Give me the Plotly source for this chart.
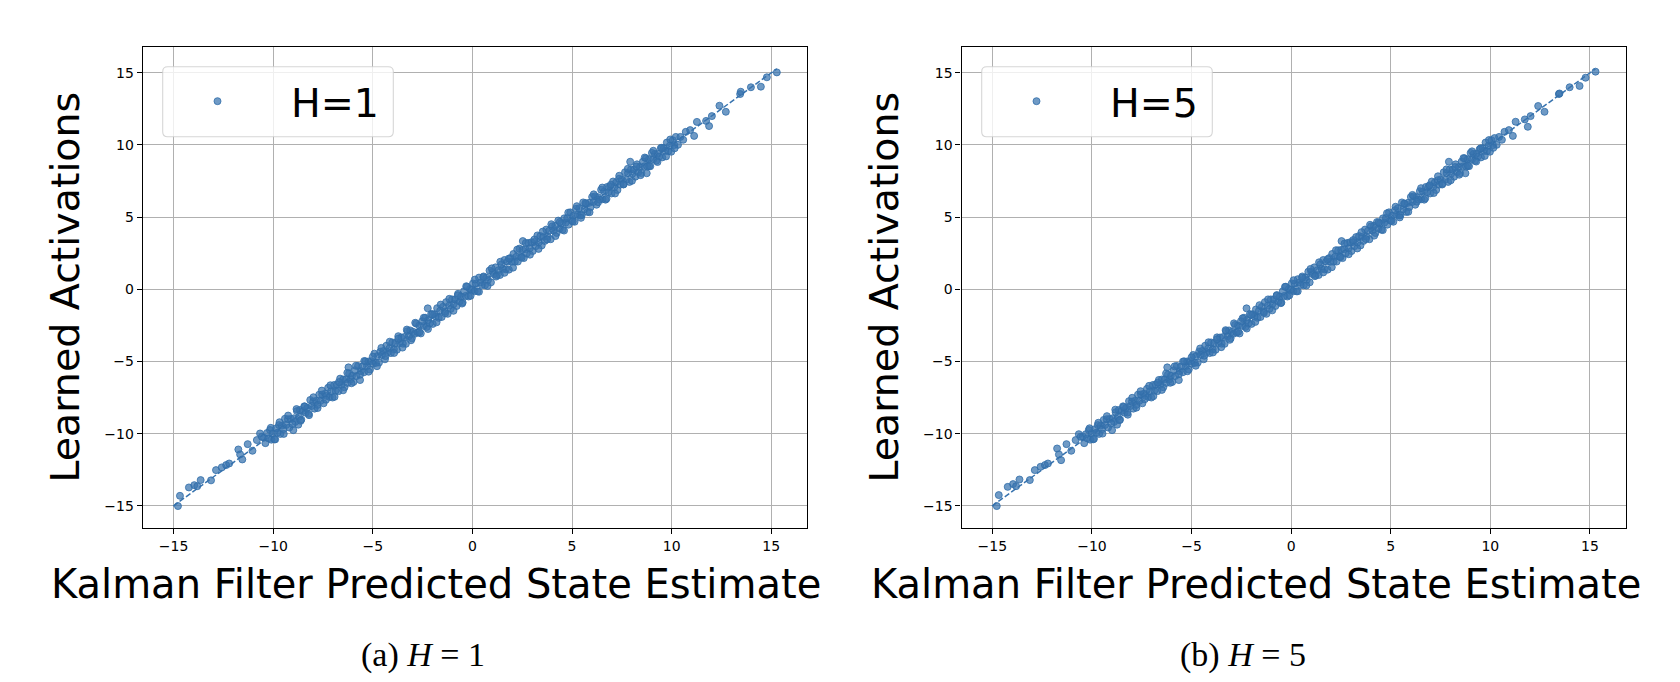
import plotly.graph_objects as go

# ---------------- data ----------------
kalman_x = [
    -14.78, -14.68, -14.23, -13.96, -13.81, -13.64, -13.12, -12.87, -12.58, -12.36,
    -12.21, -11.75, -11.66, -11.55, -11.28, -11.04, -10.82, -10.66, -10.57,
    -10.46, -10.39, -10.31, -10.24, -10.16, -10.09, -10.01, -9.94, -9.86, -9.79, -9.71, -9.64, -9.56,
    -9.49, -9.41, -9.34, -9.26, -9.19, -9.11, -8.99, -8.96, -8.89, -8.81, -8.74, -8.70, -8.66, -8.59, -8.51,
    -8.44, -8.37, -8.29, -8.22, -8.14, -8.07, -7.99, -7.92, -7.84, -7.77, -7.69, -7.62, -7.54,
    -7.47, -7.39, -7.32, -7.24, -7.17, -7.09, -7.02, -6.94, -6.87, -6.79, -6.72, -6.64, -6.57,
    -6.49, -6.42, -6.34, -6.27, -6.22, -6.19, -6.12, -6.04, -5.97, -5.89, -5.82, -5.74, -5.64, -5.59, -5.52,
    -5.44, -5.37, -5.29, -5.22, -5.14, -5.07, -4.99, -4.92, -4.84, -4.77, -4.69, -4.62, -4.54,
    -4.47, -4.39, -4.32, -4.24, -4.17, -4.09, -4.02, -3.94, -3.87, -3.79, -3.72, -3.64, -3.57,
    -3.49, -3.42, -3.34, -3.27, -3.19, -3.12, -3.04, -2.97, -2.89, -2.82, -2.74, -2.67, -2.59, -2.52,
    -2.44, -2.37, -2.29, -2.24, -2.22, -2.14, -2.07, -1.99, -1.92, -1.84, -1.77, -1.69, -1.62, -1.54,
    -1.47, -1.39, -1.32, -1.24, -1.17, -1.09, -1.02, -0.94, -0.87, -0.79, -0.72, -0.64, -0.57,
    -0.49, -0.42, -0.34, -0.27, -0.19, -0.12, -0.04, 0.03, 0.11, 0.18, 0.26, 0.33, 0.41, 0.48,
    0.56, 0.63, 0.71, 0.78, 0.86, 0.93, 1.01, 1.08, 1.16, 1.23, 1.31, 1.38, 1.46,
    1.53, 1.61, 1.68, 1.76, 1.83, 1.91, 1.98, 2.06, 2.13, 2.21, 2.28, 2.36, 2.43,
    2.51, 2.53, 2.58, 2.66, 2.73, 2.81, 2.88, 2.96, 3.03, 3.11, 3.18, 3.26, 3.33, 3.41, 3.48,
    3.56, 3.63, 3.71, 3.78, 3.86, 3.93, 4.01, 4.08, 4.16, 4.23, 4.31, 4.38, 4.46,
    4.53, 4.61, 4.68, 4.76, 4.83, 4.91, 4.98, 5.06, 5.13, 5.21, 5.28, 5.36, 5.43, 5.49,
    5.56, 5.63, 5.71, 5.78, 5.86, 5.93, 6.01, 6.08, 6.16, 6.23, 6.31, 6.38, 6.46,
    6.53, 6.61, 6.68, 6.76, 6.83, 6.91, 6.98, 7.06, 7.13, 7.21, 7.28, 7.36, 7.43,
    7.51, 7.58, 7.66, 7.73, 7.81, 7.88, 7.92, 7.96, 8.03, 8.11, 8.18, 8.26, 8.33, 8.41, 8.48,
    8.56, 8.63, 8.71, 8.75, 8.78, 8.86, 8.93, 9.01, 9.08, 9.16, 9.23, 9.31, 9.38, 9.46,
    9.53, 9.61, 9.68, 9.76, 9.83, 9.91, 9.98, 10.06, 10.13, 10.21, 10.32, 10.44, 10.58, 10.71,
    10.93, 11.13, 11.27, 11.73, 11.88, 12.02, 12.40, 12.72, 13.44, 13.47, 13.98, 14.48, 14.78, 15.28,
    # outer edge of the dense band
    -10.12, -9.90, -9.68, -9.47, -9.25, -9.03, -8.83, -8.62, -8.41, -8.20, -7.98, -7.77,
    -7.56, -7.35, -7.13, -6.92, -6.70, -6.49, -6.28, -6.07, -5.85, -5.64, -5.43, -5.21,
    -5.00, -4.79, -4.57, -4.36, -4.15, -3.93, -3.72, -3.51, -3.29, -3.08, -2.87, -2.66,
    -2.44, -2.23, -2.01, -1.80, -1.59, -1.37, -1.16, -0.95, -0.73, -0.52, -0.31, -0.09,
    0.12, 0.33, 0.55, 0.76, 0.97, 1.19, 1.40, 1.61, 1.83, 2.04, 2.25, 2.47,
    2.68, 2.89, 3.11, 3.32, 3.53, 3.75, 3.96, 4.17, 4.39, 4.60, 4.81, 5.03,
    5.24, 5.45, 5.67, 5.88, 6.09, 6.31, 6.52, 6.73, 6.95, 7.16, 7.37, 7.59,
    7.80, 8.01, 8.23, 8.44, 8.65, 8.87, 9.08, 9.29, 9.51, 9.72, 9.93, 10.15,
]

learned_h1 = [
    -15.02, -14.31, -13.73, -13.57, -13.64, -13.22, -13.24, -12.53, -12.34, -12.18,
    -12.07, -11.10, -11.44, -11.79, -10.73, -11.19, -10.45, -9.99, -10.22,
    -10.28, -10.66, -9.96, -10.33, -9.75, -10.42, -9.97, -10.40, -9.64, -9.94, -9.41, -10.02, -9.45,
    -9.70, -8.97, -9.40, -9.00, -9.58, -8.98, -9.76, -8.94, -9.19, -8.44, -9.38, -8.84, -8.37, -9.03, -8.43,
    -8.11, -8.55, -8.23, -8.63, -7.67, -8.09, -7.78, -8.27, -7.72, -8.01, -7.30, -7.73, -7.29,
    -7.90, -7.23, -7.39, -6.82, -7.46, -7.06, -7.50, -6.63, -7.03, -6.60, -7.06, -6.19, -6.62,
    -6.25, -6.79, -6.24, -6.49, -5.41, -5.83, -6.25, -5.99, -6.42, -5.61, -6.01, -5.31, -6.29, -5.67, -5.35,
    -5.75, -4.99, -5.33, -5.00, -5.56, -4.98, -5.16, -4.46, -5.10, -4.63, -5.08, -4.32, -4.55,
    -4.27, -4.85, -3.91, -4.36, -4.10, -4.42, -3.68, -4.15, -3.72, -4.19, -3.25, -3.73, -3.34,
    -3.77, -3.31, -3.78, -2.90, -3.25, -2.85, -3.40, -2.95, -3.08, -2.38, -2.99, -2.51, -3.06, -2.21,
    -2.54, -1.97, -2.61, -1.32, -2.14, -2.37, -1.72, -2.40, -1.73, -1.89, -1.31, -1.98, -1.49, -1.92,
    -1.21, -1.54, -0.89, -1.70, -1.13, -1.36, -0.70, -1.02, -0.70, -1.16, -0.31, -0.84, -0.50,
    -0.92, -0.13, -0.46, 0.18, -0.50, 0.02, -0.06, 0.41, -0.13, 0.39, -0.14, 0.81, 0.47, 0.30,
    0.89, 0.28, 0.81, 0.64, 1.30, 0.48, 1.20, 1.05, 1.52, 0.97, 1.32, 0.99, 1.73,
    1.42, 2.03, 1.38, 1.91, 1.36, 2.16, 1.91, 2.45, 1.91, 2.26, 1.92, 2.82, 2.27,
    2.73, 3.34, 2.16, 2.78, 2.48, 3.21, 2.84, 3.26, 2.65, 3.28, 2.99, 3.73, 3.24, 3.69, 3.04,
    3.64, 3.35, 4.14, 3.65, 4.06, 3.47, 4.36, 4.07, 4.40, 3.90, 4.76, 4.21, 4.57,
    4.13, 4.92, 4.62, 4.94, 4.48, 5.33, 4.78, 5.09, 4.68, 5.58, 5.16, 5.62, 5.12, 5.14,
    6.02, 5.55, 5.92, 5.36, 5.99, 5.69, 6.40, 6.05, 6.44, 5.86, 6.38, 6.22, 6.90,
    6.24, 6.77, 6.21, 7.09, 6.73, 7.14, 6.64, 7.47, 7.08, 7.40, 6.88, 7.66, 7.25,
    7.61, 7.26, 8.11, 7.59, 8.05, 7.44, 8.84, 8.31, 8.01, 8.29, 7.80, 8.66, 8.12, 8.47, 8.05,
    8.85, 8.52, 9.08, 8.04, 8.51, 9.00, 8.53, 9.45, 9.01, 9.38, 8.90, 9.40, 9.20, 9.79,
    9.14, 9.78, 9.59, 10.17, 9.57, 9.95, 9.53, 10.33, 9.99, 10.56, 10.01, 10.56, 10.36, 10.91,
    11.03, 10.63, 11.60, 11.67, 11.31, 12.00, 12.72, 12.30, 13.53, 13.69, 14.00, 14.04, 14.69, 15.03,
    # outer edge of the dense band
    -9.60, -10.40, -9.21, -10.02, -8.75, -9.34, -8.30, -9.11, -8.12, -8.72, -7.48, -8.23,
    -7.02, -7.65, -6.65, -7.45, -6.43, -7.00, -5.79, -6.51, -5.30, -5.92, -4.97, -5.71,
    -4.67, -5.33, -4.06, -4.63, -3.63, -4.41, -3.42, -4.04, -2.79, -3.53, -2.32, -2.98,
    -1.97, -2.75, -1.73, -2.29, -1.06, -1.66, -0.66, -1.49, -0.41, -0.99, 0.21, -0.45,
    0.67, -0.17, 0.84, 0.23, 1.45, 0.88, 1.91, 1.14, 2.13, 1.50, 2.75, 2.19,
    3.21, 2.40, 3.45, 2.80, 4.00, 3.45, 4.51, 3.69, 4.67, 4.07, 5.31, 4.70,
    5.76, 4.95, 5.98, 5.34, 6.58, 6.04, 7.05, 6.27, 7.25, 6.64, 7.87, 7.28,
    8.35, 7.52, 8.51, 7.91, 9.13, 8.53, 9.60, 8.82, 9.81, 9.21, 10.38, 9.77,
]

learned_h5 = [
    -15.02, -14.26, -13.69, -13.50, -13.64, -13.18, -13.22, -12.53, -12.30, -12.18,
    -12.07, -11.03, -11.44, -11.84, -10.73, -11.19, -10.45, -10.04, -10.22,
    -10.21, -10.66, -10.04, -10.33, -9.75, -10.42, -9.97, -10.40, -9.70, -9.94, -9.41, -10.02, -9.45,
    -9.70, -9.05, -9.40, -9.00, -9.58, -8.98, -9.76, -8.94, -9.19, -8.52, -9.38, -8.84, -8.37, -9.03, -8.43,
    -8.11, -8.55, -8.23, -8.55, -7.75, -8.09, -7.78, -8.27, -7.72, -8.01, -7.30, -7.73, -7.29,
    -7.90, -7.23, -7.39, -6.90, -7.46, -7.06, -7.50, -6.63, -7.03, -6.60, -7.06, -6.28, -6.62,
    -6.25, -6.79, -6.24, -6.49, -5.41, -5.91, -6.25, -5.99, -6.42, -5.61, -6.01, -5.31, -6.29, -5.67, -5.35,
    -5.75, -4.99, -5.33, -5.00, -5.56, -4.98, -5.16, -4.55, -5.10, -4.63, -5.08, -4.32, -4.55,
    -4.27, -4.85, -3.91, -4.36, -4.10, -4.42, -3.68, -4.15, -3.72, -4.19, -3.33, -3.73, -3.34,
    -3.77, -3.31, -3.78, -2.90, -3.25, -2.85, -3.40, -2.95, -3.08, -2.47, -2.99, -2.51, -3.06, -2.21,
    -2.54, -1.97, -2.61, -1.32, -2.14, -2.37, -1.72, -2.40, -1.73, -1.89, -1.40, -1.98, -1.49, -1.92,
    -1.21, -1.54, -0.89, -1.70, -1.13, -1.36, -0.70, -1.02, -0.70, -1.16, -0.40, -0.84, -0.50,
    -0.92, -0.13, -0.46, 0.18, -0.50, 0.02, -0.06, 0.41, -0.13, 0.39, -0.14, 0.70, 0.47, 0.30,
    0.89, 0.28, 0.81, 0.64, 1.22, 0.48, 1.20, 1.05, 1.52, 0.97, 1.32, 0.99, 1.73,
    1.42, 2.03, 1.38, 1.91, 1.36, 2.16, 1.91, 2.45, 1.91, 2.26, 1.92, 2.70, 2.27,
    2.73, 3.34, 2.16, 2.78, 2.48, 3.21, 2.84, 3.26, 2.65, 3.28, 2.99, 3.62, 3.24, 3.69, 3.04,
    3.64, 3.35, 4.14, 3.65, 4.06, 3.47, 4.36, 4.07, 4.40, 3.90, 4.66, 4.21, 4.57,
    4.13, 4.92, 4.62, 4.94, 4.48, 5.33, 4.78, 5.09, 4.68, 5.48, 5.16, 5.62, 5.12, 5.14,
    6.02, 5.55, 5.92, 5.36, 5.99, 5.69, 6.40, 6.05, 6.44, 5.86, 6.38, 6.22, 6.80,
    6.24, 6.77, 6.21, 7.09, 6.73, 7.14, 6.64, 7.47, 7.08, 7.40, 6.88, 7.56, 7.25,
    7.61, 7.26, 8.11, 7.59, 8.05, 7.44, 8.84, 8.31, 8.01, 8.29, 7.80, 8.66, 8.12, 8.47, 8.05,
    8.85, 8.52, 9.08, 8.04, 8.51, 9.00, 8.53, 9.45, 9.01, 9.38, 8.90, 9.40, 9.20, 9.70,
    9.14, 9.78, 9.59, 10.17, 9.57, 9.95, 9.53, 10.33, 9.99, 10.48, 10.01, 10.56, 10.36, 10.91,
    11.03, 10.63, 11.61, 11.77, 11.26, 12.00, 12.70, 12.30, 13.53, 13.57, 14.00, 14.09, 14.66, 15.08,
    # outer edge of the dense band
    -9.63, -10.36, -9.25, -10.00, -8.79, -9.30, -8.34, -9.07, -8.15, -8.69, -7.52, -8.20,
    -7.06, -7.62, -6.69, -7.41, -6.47, -6.97, -5.83, -6.48, -5.34, -5.89, -5.01, -5.68,
    -4.71, -5.30, -4.10, -4.60, -3.67, -4.38, -3.46, -4.01, -2.83, -3.50, -2.36, -2.95,
    -2.01, -2.72, -1.77, -2.26, -1.10, -1.63, -0.70, -1.46, -0.45, -0.96, 0.17, -0.42,
    0.63, -0.14, 0.80, 0.26, 1.41, 0.91, 1.87, 1.17, 2.09, 1.53, 2.71, 2.22,
    3.17, 2.43, 3.41, 2.83, 3.96, 3.48, 4.47, 3.72, 4.63, 4.10, 5.27, 4.73,
    5.72, 4.98, 5.94, 5.37, 6.54, 6.07, 7.01, 6.30, 7.21, 6.67, 7.83, 7.31,
    8.31, 7.55, 8.47, 7.94, 9.09, 8.56, 9.56, 8.85, 9.77, 9.24, 10.34, 9.80,
]

tick_vals = [-15, -10, -5, 0, 5, 10, 15]
tick_text = ["\u221215", "\u221210", "\u22125", "0", "5", "10", "15"]
legend_names = ["H=1", "H=5"]
captions = ["(a) <i>H</i> = 1", "(b) <i>H</i> = 5"]
x_title = "Kalman Filter Predicted State Estimate"
y_title = "Learned Activations"

assert len(kalman_x) == len(learned_h1) == len(learned_h5)

# ---------------- layout helpers (pixel geometry) ----------------
W, H = 1680, 682
def fx(p):
    return p / W
def fy(p):
    return 1 - p / H

BLUE = "rgb(55,115,175)"
FILL = "rgba(55,115,175,0.72)"
EDGE = "rgba(50,110,170,0.9)"
FONT = "DejaVu Sans"

panels = [
    dict(y=learned_h1, name=legend_names[0], xdom=(142.7, 807.3), box=(162.7, 393.3),
         leg_x=144.0, cap_x=423.0, xt_x=436.0, legend="legend"),
    dict(y=learned_h5, name=legend_names[1], xdom=(961.5, 1626.0), box=(981.7, 1212.3),
         leg_x=963.0, cap_x=1243.0, xt_x=1255.5, legend="legend2"),
]

fig = go.Figure()
shapes = []
annotations = []
layout = {}

for i, p in enumerate(panels):
    xa = "x" if i == 0 else "x2"
    ya = "y" if i == 0 else "y2"
    lo = min(min(kalman_x), min(p["y"]))
    hi = max(max(kalman_x), max(p["y"]))
    fig.add_trace(go.Scatter(
        x=[lo, hi], y=[lo, hi], mode="lines", xaxis=xa, yaxis=ya,
        line=dict(color=BLUE, width=1.5, dash="5.5px,2.4px"),
        showlegend=False, hoverinfo="skip"))
    fig.add_trace(go.Scatter(
        x=kalman_x, y=p["y"], mode="markers", xaxis=xa, yaxis=ya,
        name=p["name"], legend=p["legend"],
        marker=dict(size=7, color=FILL, line=dict(color=EDGE, width=0.9))))

    axis_common = dict(
        showline=True, mirror=True, linecolor="black", linewidth=1.1,
        ticks="outside", ticklen=5, tickwidth=1.1, tickcolor="black",
        tickvals=tick_vals, ticktext=tick_text,
        tickfont=dict(family=FONT, size=14, color="black"),
        showgrid=True, gridcolor="#b0b0b0", gridwidth=1.1,
        zeroline=False, automargin=False,
    )
    xk = "xaxis" if i == 0 else "xaxis2"
    yk = "yaxis" if i == 0 else "yaxis2"
    layout[xk] = dict(axis_common, domain=[fx(p["xdom"][0]), fx(p["xdom"][1])],
                      range=[-16.55, 16.81], anchor=ya)
    layout[yk] = dict(axis_common, domain=[fy(527.7), fy(46.7)],
                      range=[-16.52, 16.81], anchor=xa,
                      title=dict(text=y_title, font=dict(family=FONT, size=39.5, color="black"),
                                 standoff=12))

    # x-axis title (placed where the reference puts it)
    annotations.append(dict(
        text=x_title, x=fx(p["xt_x"]), y=fy(584), xref="paper", yref="paper",
        xanchor="center", yanchor="middle", showarrow=False,
        font=dict(family=FONT, size=40, color="black")))

    # rounded legend frame
    L, R = fx(p["box"][0]), fx(p["box"][1])
    T, B = fy(66.7), fy(136.7)
    rx, ry = 5 / W, 5 / H
    path = (f"M {L+rx},{T} L {R-rx},{T} Q {R},{T} {R},{T-ry} "
            f"L {R},{B+ry} Q {R},{B} {R-rx},{B} "
            f"L {L+rx},{B} Q {L},{B} {L},{B+ry} "
            f"L {L},{T-ry} Q {L},{T} {L+rx},{T} Z")
    shapes.append(dict(type="path", xref="paper", yref="paper", path=path,
                       fillcolor="rgba(255,255,255,0.8)",
                       line=dict(color="rgba(204,204,204,0.8)", width=1.1),
                       layer="above"))

    layout[p["legend"]] = dict(
        x=fx(p["leg_x"]), y=fy(101.5), xanchor="left", yanchor="middle",
        bgcolor="rgba(0,0,0,0)", borderwidth=0, itemwidth=137,
        font=dict(family=FONT, size=39.5, color="black"))

    annotations.append(dict(
        text=captions[i], x=fx(p["cap_x"]), y=fy(655), xref="paper", yref="paper",
        xanchor="center", yanchor="middle", showarrow=False,
        font=dict(family="Liberation Serif", size=34, color="black")))

fig.update_layout(
    width=W, height=H, margin=dict(l=0, r=0, t=0, b=0),
    paper_bgcolor="white", plot_bgcolor="white",
    shapes=shapes, annotations=annotations, showlegend=True,
    **layout)

fig.write_html("out.html", config={"displayModeBar": False},
               post_script="document.body.style.margin='0px';")
